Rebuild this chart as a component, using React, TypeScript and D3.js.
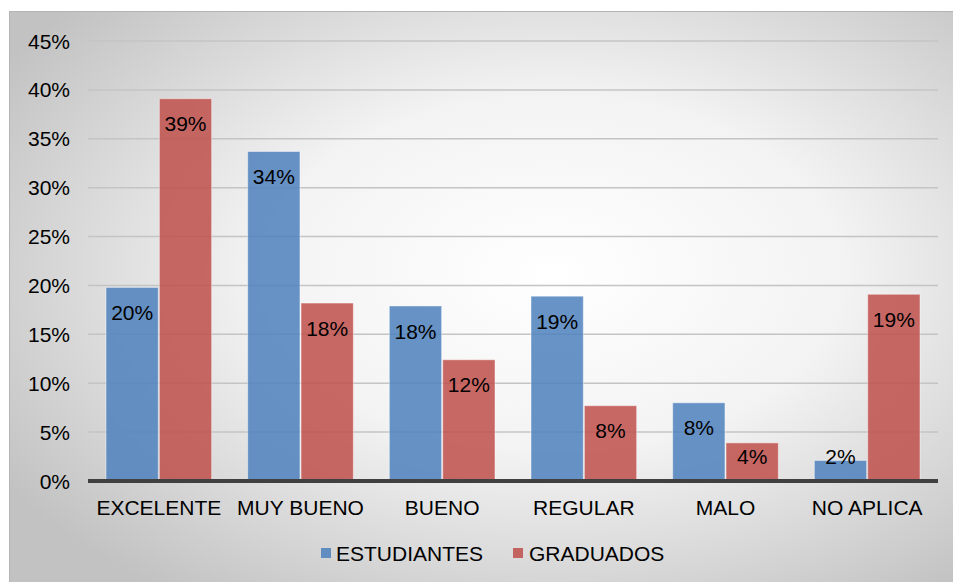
import React from "react";
import * as d3 from "d3";

const categories = ["EXCELENTE", "MUY BUENO", "BUENO", "REGULAR", "MALO", "NO APLICA"];
const seriesNames = ["ESTUDIANTES", "GRADUADOS"];
const estudiantes = [19.8, 33.7, 17.9, 18.9, 8.0, 2.1];
const graduados = [39.1, 18.2, 12.4, 7.7, 3.9, 19.1];
const yTicks = [0, 5, 10, 15, 20, 25, 30, 35, 40, 45];
const colors = ["#4F81BD", "#C0504D"];

export default function App() {
  const W = 953, H = 582;
  const left = 88, right = 938, top = 41, bottom = 481;
  const x = d3.scaleBand<string>().domain(categories).range([left, right]).paddingInner(0).paddingOuter(0);
  const y = d3.scaleLinear().domain([0, 45]).range([bottom, top]);
  const groupPad = 18;
  const inner = d3.scaleBand<string>().domain(seriesNames).range([0, x.bandwidth() - 2 * groupPad]).paddingInner(0.02);
  const series = [estudiantes, graduados];
  const font = "'Liberation Sans', Arial, sans-serif";
  const fs = 21;

  return (
    <svg width={W} height={H} style={{ position: "absolute", left: 0, top: 0 }} fontFamily={font}>
      <defs>
        <radialGradient id="bg" cx="57%" cy="45%" r="68%">
          <stop offset="0%" stopColor="#ffffff" />
          <stop offset="45%" stopColor="#f3f3f3" />
          <stop offset="100%" stopColor="#c2c2c2" />
        </radialGradient>
      </defs>
      <rect x={0} y={0} width={W} height={H} fill="#ffffff" />
      <rect x={9.5} y={11.5} width={W} height={H} fill="url(#bg)" stroke="#b4b4b4" strokeWidth={1} />
      {yTicks.filter(t => t > 0).map(t => (
        <line key={t} x1={left} x2={right} y1={y(t)} y2={y(t)} stroke="#c4c4c4" strokeWidth={1.5} />
      ))}
      {yTicks.map(t => (
        <text key={"l" + t} x={70} y={y(t)} dy="0.36em" textAnchor="end" fontSize={fs} fill="#000">{t}%</text>
      ))}
      {categories.map((c, i) => (
        <g key={c}>
          {series.map((s, j) => {
            const bx = (x(c) as number) + groupPad + (inner(seriesNames[j]) as number);
            const by = y(s[i]);
            const bw = inner.bandwidth();
            const ly = Math.min(by + 25, bottom - 25);
            return (
              <g key={j}>
                <rect x={bx} y={by} width={bw} height={bottom - by} fill={colors[j]} fillOpacity={0.86}
                  stroke="#ffffff" strokeOpacity={0.45} strokeWidth={1} />
                <text x={bx + bw / 2} y={ly} dy="0.36em" textAnchor="middle" fontSize={fs} fill="#000">
                  {Math.round(s[i])}%
                </text>
              </g>
            );
          })}
          <text x={(x(c) as number) + x.bandwidth() / 2} y={507} dy="0.36em" textAnchor="middle" fontSize={fs} fill="#000">{c}</text>
        </g>
      ))}
      <line x1={left} x2={right} y1={bottom} y2={bottom} stroke="#404040" strokeWidth={4} />
      <g>
        <rect x={321} y={548} width={10} height={10} fill={colors[0]} fillOpacity={0.86} />
        <text x={336} y={553} dy="0.36em" fontSize={fs} fill="#000">{seriesNames[0]}</text>
        <rect x={513} y={548} width={10} height={10} fill={colors[1]} fillOpacity={0.86} />
        <text x={529} y={553} dy="0.36em" fontSize={fs} fill="#000">{seriesNames[1]}</text>
      </g>
    </svg>
  );
}
